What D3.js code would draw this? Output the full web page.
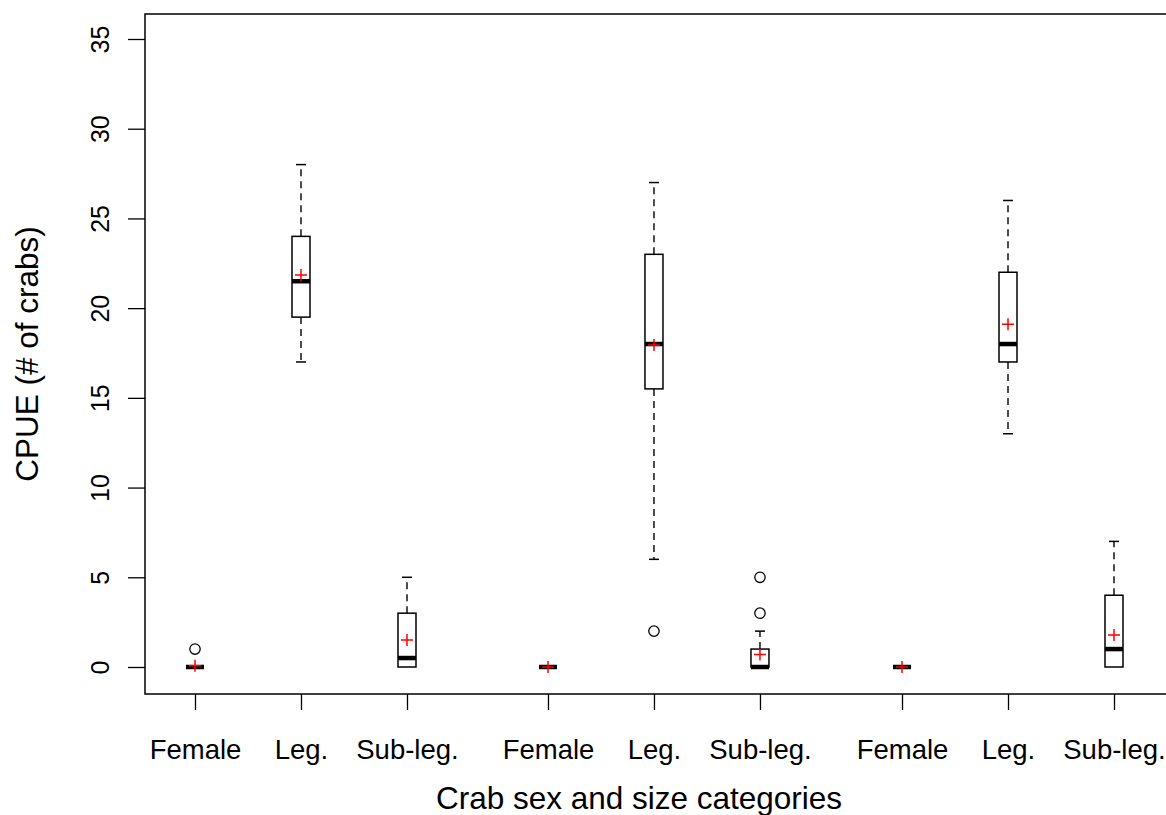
<!DOCTYPE html>
<html>
<head>
<meta charset="utf-8">
<script src="https://cdn.jsdelivr.net/npm/d3@7"></script>
<style>
  html, body { margin: 0; padding: 0; background: #fff; }
  svg { display: block; }
  text { font-family: "Liberation Sans", Arial, sans-serif; fill: #000; }
</style>
</head>
<body>
<svg id="chart" width="1166" height="815"></svg>
<script>
// Category labels along the x axis (three sites, three crab classes each)
const categories = ["Female", "Leg.", "Sub-leg.", "Female", "Leg.", "Sub-leg.", "Female", "Leg.", "Sub-leg."];
// Box positions on the x axis (groups separated by an extra gap)
const positions = [1, 2, 3, 4.33, 5.33, 6.33, 7.67, 8.67, 9.67];
// Five-number summaries per box
const lowerWhisker = [0, 17, 0, 0, 6, 0, 0, 13, 0];
const q1           = [0, 19.5, 0, 0, 15.5, 0, 0, 17, 0];
const median       = [0, 21.5, 0.5, 0, 18, 0, 0, 18, 1];
const q3           = [0, 24, 3, 0, 23, 1, 0, 22, 4];
const upperWhisker = [0, 28, 5, 0, 27, 2, 0, 26, 7];
// Means (red crosses)
const means        = [0.07, 21.85, 1.5, 0, 17.95, 0.7, 0, 19.1, 1.78];
// Outlying observations
const outliers     = [[1], [], [], [], [2], [5, 3], [], [], []];
// Y axis ticks
const yTicks = [0, 5, 10, 15, 20, 25, 30, 35];

const svg = d3.select("#chart");

const plot = { left: 145, right: 1167, top: 14, bottom: 694 };

const x = d3.scaleLinear().domain([1, 9.67]).range([195, 1114]);
const y = d3.scaleLinear().domain([0, 35]).range([667, 39]);

const boxHalf = 9;
const capHalf = 5;

const boxes = categories.map((c, i) => ({
  cat: c, pos: positions[i],
  lo: lowerWhisker[i], q1: q1[i], med: median[i], q3: q3[i], hi: upperWhisker[i],
  mean: means[i], out: outliers[i]
}));

// Axes
const yAxis = d3.axisLeft(y).tickValues(yTicks).tickSize(17).tickPadding(0).tickFormat(d3.format("d"));
const gy = svg.append("g").attr("transform", `translate(${plot.left},0)`).call(yAxis);
gy.select(".domain").remove();
gy.selectAll(".tick line").attr("stroke", "#000").attr("stroke-width", 1.3);
gy.selectAll(".tick text")
  .attr("x", null).attr("dy", null)
  .attr("text-anchor", "middle")
  .attr("font-size", 25)
  .attr("transform", "translate(-36,0) rotate(-90)")
  .attr("y", 0);

const xAxis = d3.axisBottom(x).tickValues(positions).tickSize(16).tickPadding(0)
  .tickFormat((d, i) => categories[i]);
const gx = svg.append("g").attr("transform", `translate(0,${plot.bottom})`).call(xAxis);
gx.select(".domain").remove();
gx.selectAll(".tick line").attr("stroke", "#000").attr("stroke-width", 1.3);
gx.selectAll(".tick text").attr("dy", null).attr("y", 65).attr("font-size", 27.5);

// Plot frame
svg.append("rect")
  .attr("x", plot.left).attr("y", plot.top)
  .attr("width", plot.right - plot.left).attr("height", plot.bottom - plot.top)
  .attr("fill", "none").attr("stroke", "#000").attr("stroke-width", 1.5);

// Boxplots
const g = svg.append("g");
boxes.forEach(b => {
  const cx = x(b.pos);
  // whiskers with end caps
  [[b.q3, b.hi], [b.q1, b.lo]].forEach(([from, to]) => {
    if (from !== to) {
      g.append("line").attr("x1", cx).attr("x2", cx).attr("y1", y(from)).attr("y2", y(to))
        .attr("stroke", "#000").attr("stroke-width", 1.4).attr("stroke-dasharray", "7,5");
      g.append("line").attr("x1", cx - capHalf).attr("x2", cx + capHalf).attr("y1", y(to)).attr("y2", y(to))
        .attr("stroke", "#000").attr("stroke-width", 1.5);
    }
  });
  // box
  g.append("rect").attr("x", cx - boxHalf).attr("y", y(b.q3))
    .attr("width", boxHalf * 2).attr("height", y(b.q1) - y(b.q3))
    .attr("fill", "#fff").attr("stroke", "#000").attr("stroke-width", 1.5);
  // median
  g.append("line").attr("x1", cx - boxHalf).attr("x2", cx + boxHalf)
    .attr("y1", y(b.med)).attr("y2", y(b.med))
    .attr("stroke", "#000").attr("stroke-width", 4.5);
  // outliers
  b.out.forEach(v => {
    g.append("circle").attr("cx", cx).attr("cy", y(v)).attr("r", 5.2)
      .attr("fill", "none").attr("stroke", "#000").attr("stroke-width", 1.3);
  });
  // mean marker
  const my = y(b.mean);
  g.append("path")
    .attr("d", `M${cx - 6},${my}H${cx + 6}M${cx},${my - 6}V${my + 6}`)
    .attr("stroke", "#f00").attr("stroke-width", 1.5).attr("fill", "none");
});

// Axis titles
svg.append("text")
  .attr("x", 639).attr("y", 809)
  .attr("text-anchor", "middle").attr("font-size", 31.5)
  .text("Crab sex and size categories");

svg.append("text")
  .attr("transform", `translate(38,${(plot.top + plot.bottom) / 2}) rotate(-90)`)
  .attr("text-anchor", "middle").attr("font-size", 31.5)
  .text("CPUE (# of crabs)");
</script>
</body>
</html>
